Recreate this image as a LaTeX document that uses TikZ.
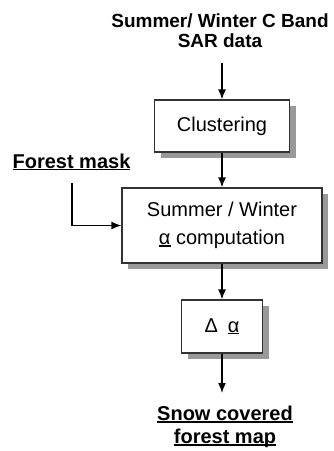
\documentclass[tikz,border=0pt]{standalone}
\usepackage{fontspec}
\setmainfont{Liberation Sans}
\usetikzlibrary{arrows.meta,shadows}
\newcommand\ulx[1]{\setbox0\hbox{#1}\rlap{\rule[-2pt]{\wd0}{1.2pt}}\box0}
\tikzset{
  procbox/.style={draw=black!80, line width=1.2pt, fill=white, inner sep=0pt,
    font=\fontsize{20}{28}\selectfont, align=center,
    drop shadow={shadow xshift=6pt, shadow yshift=-6pt, fill=black!40, opacity=1}},
  lbl/.style={inner sep=0pt, font=\bfseries\fontsize{20}{23}\selectfont, align=center},
  arr/.style={-{Latex[length=10pt,width=8pt]}, line width=1.4pt}
}
\begin{document}
\begin{tikzpicture}[x=1pt,y=-1pt]
\useasboundingbox (0,0) rectangle (334,451);
\node[inner sep=0pt, align=center, font=\bfseries\fontsize{19}{20}\selectfont] (src) at (220,31) {Summer/ Winter C Band\\SAR data};
\node[procbox, minimum width=135pt, minimum height=52pt] (clus) at (222,126) {Clustering};
\node[procbox, minimum width=200pt, minimum height=75pt] (comp) at (222,225.5) {Summer / Winter\\\ulx{α}\hspace{5.5pt}computation};
\node[procbox, minimum width=81pt, minimum height=53pt] (delta) at (222,326.5) {Δ\hspace{10pt}\ulx{α}};
\node[lbl, anchor=base] (mask) at (71.5,168) {\ulx{Forest mask}};
\node[lbl] (out) at (225,427) {\ulx{Snow covered}\\\ulx{forest map}};
\coordinate (s1) at (222,63);
\coordinate (m1) at (72,183);
\coordinate (e1) at (222,393);
\draw[arr] (s1) -- (clus.north);
\draw[arr] (clus.south) -- (comp.north);
\draw[arr] (m1) |- (comp.west);
\draw[arr] (comp.south) -- (delta.north);
\draw[arr] (delta.south) -- (e1);
\end{tikzpicture}
\end{document}
